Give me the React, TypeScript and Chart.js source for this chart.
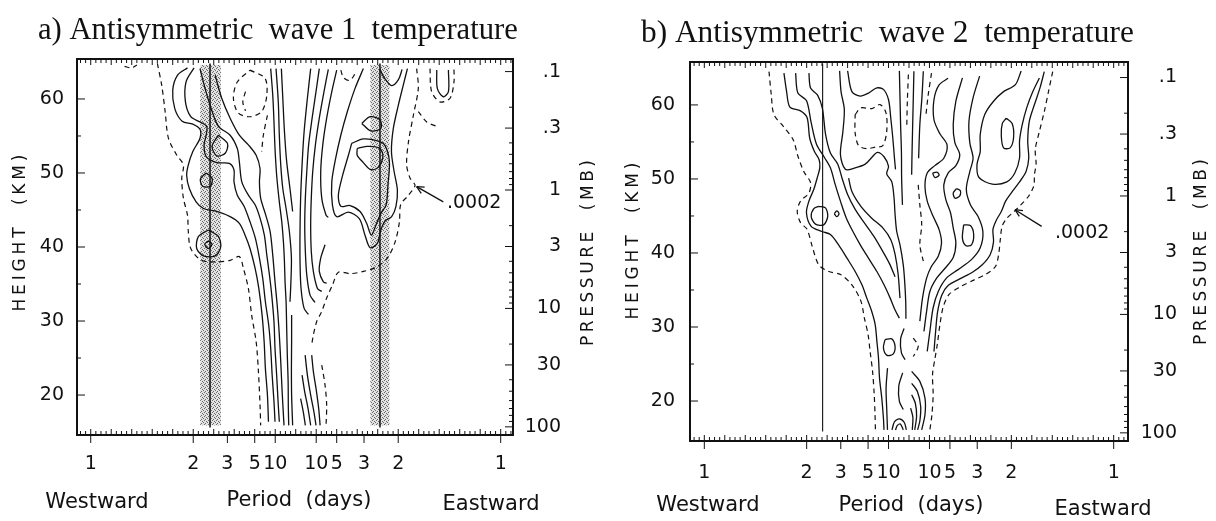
import React, { useEffect, useRef } from 'react';
import { Chart, registerables } from 'chart.js';

Chart.register(...registerables);

type Pt = [number, number];

// ---------- axis ticks ----------
const PERIOD_TICK_FREQ: number[] = [-1, -1 / 2, -1 / 3, -1 / 5, -1 / 10, 1 / 10, 1 / 5, 1 / 3, 1 / 2, 1];
const PERIOD_TICK_LABELS: string[] = ['1', '2', '3', '5', '10', '10', '5', '3', '2', '1'];
const HEIGHT_TICKS: number[] = [20, 30, 40, 50, 60];
const HEIGHT_MINOR_TICKS: number[] = [25, 35, 45, 55];
const PRESSURE_TICKS: number[] = [0.1, 0.3, 1, 3, 10, 30, 100];
const PRESSURE_LABELS: string[] = ['.1', '.3', '1', '3', '10', '30', '100'];
const PRESSURE_MINOR: number[] = [0.2, 0.4, 0.5, 0.6, 0.7, 0.8, 0.9, 2, 4, 5, 6, 7, 8, 9, 20, 40, 50, 60, 70, 80, 90];

// ---------- panel a contours (frequency cpd, height km) ----------
const A_W1: Pt[] = [[-0.528,64.2],[-0.577,63.2],[-0.600,61.2],[-0.590,58.7],[-0.554,57.0],[-0.502,56.6],[-0.467,55.9],[-0.467,54.7],[-0.502,52.9],[-0.524,51.1],[-0.532,49.7],[-0.519,47.9],[-0.486,46.1],[-0.450,45.2],[-0.385,44.8],[-0.320,44.1],[-0.275,43.2],[-0.247,41.6],[-0.223,39.8],[-0.198,37.1],[-0.180,34.4],[-0.164,30.8],[-0.154,27.2],[-0.148,23.6],[-0.138,20.0],[-0.133,16.4]];
const A_W2: Pt[] = [[-0.496,64.2],[-0.535,62.3],[-0.538,59.6],[-0.512,57.6],[-0.467,56.9],[-0.434,56.3],[-0.437,55.1],[-0.447,53.8],[-0.437,52.2],[-0.385,51.4],[-0.324,51.3],[-0.301,50.4],[-0.301,48.8],[-0.285,47.0],[-0.252,45.5],[-0.223,43.4],[-0.197,41.2],[-0.177,38.5],[-0.161,35.8],[-0.148,32.6],[-0.132,29.5],[-0.122,26.3],[-0.115,22.7],[-0.106,19.1],[-0.101,16.4]];
const A_D1: Pt[] = [[-0.467,64.1],[-0.442,61.4],[-0.410,58.5],[-0.377,56.3],[-0.320,55.1],[-0.285,53.3],[-0.275,51.5],[-0.263,48.8],[-0.231,47.0],[-0.198,45.7],[-0.174,43.9],[-0.153,41.6],[-0.141,38.9],[-0.128,36.2],[-0.117,33.5],[-0.106,29.9],[-0.101,26.3],[-0.093,22.7],[-0.086,19.1],[-0.080,16.4]];
const A_D2: Pt[] = [[-0.393,63.2],[-0.361,60.1],[-0.320,57.4],[-0.275,55.1],[-0.231,53.8],[-0.193,52.4],[-0.174,50.6],[-0.177,48.8],[-0.171,46.6],[-0.146,44.3],[-0.125,42.1],[-0.112,38.9],[-0.101,35.3],[-0.089,31.7],[-0.080,28.1],[-0.073,24.5],[-0.067,20.9],[-0.060,17.3],[-0.057,15.9]];
const A_C1: Pt[] = [[-0.122,64.1],[-0.112,60.5],[-0.106,56.9],[-0.101,53.3],[-0.093,49.7],[-0.080,46.1],[-0.068,43.4],[-0.060,40.7],[-0.055,38.0],[-0.052,35.3],[-0.047,32.6],[-0.044,29.0],[-0.041,25.4],[-0.037,21.8],[-0.036,18.2],[-0.034,15.9]];
const A_C2: Pt[] = [[-0.096,64.1],[-0.085,59.6],[-0.080,55.1],[-0.073,51.1],[-0.063,47.9],[-0.047,45.2],[-0.031,42.1],[-0.021,38.5],[-0.024,34.9],[-0.028,32.6]];
const A_C3: Pt[] = [[-0.070,64.1],[-0.063,60.1],[-0.055,55.6],[-0.044,51.5],[-0.028,47.9],[-0.015,44.8]];
const A_R1: Pt[] = [[-0.020,30.8],[-0.020,27.2],[-0.021,23.6],[-0.020,20.0],[-0.015,15.9]];
const A_B1: Pt[] = [[-0.377,55.1],[-0.333,54.0],[-0.343,52.7],[-0.385,52.3],[-0.408,53.6],[-0.377,55.1]];
const A_B2: Pt[] = [[-0.437,50.0],[-0.408,49.3],[-0.416,48.2],[-0.454,48.2],[-0.465,49.2],[-0.437,50.0]];
const A_B3: Pt[] = [[-0.426,42.3],[-0.377,41.4],[-0.366,40.0],[-0.393,38.8],[-0.450,38.8],[-0.483,39.8],[-0.475,41.4],[-0.426,42.3]];
const A_B3I: Pt[] = [[-0.426,40.8],[-0.408,40.4],[-0.426,39.8],[-0.444,40.4],[-0.426,40.8]];
const A_E1: Pt[] = [[0.073,64.1],[0.057,60.1],[0.041,55.6],[0.031,51.1],[0.024,46.6],[0.021,42.1],[0.021,38.0],[0.026,34.4],[0.041,31.7],[0.062,30.9]];
const A_E2: Pt[] = [[0.115,64.1],[0.099,61.0],[0.080,57.4],[0.063,53.8],[0.054,50.2],[0.047,46.6],[0.044,43.0],[0.047,39.4],[0.054,36.2],[0.070,33.5],[0.094,32.5]];
const A_E3: Pt[] = [[0.159,64.0],[0.138,61.0],[0.115,57.4],[0.096,53.8],[0.083,50.2],[0.076,46.6],[0.073,43.0],[0.076,39.4],[0.086,36.7],[0.106,34.4],[0.127,34.0]];
const A_E4: Pt[] = [[0.143,40.3],[0.122,38.5],[0.115,36.7],[0.135,35.3],[0.151,35.1]];
const A_E5: Pt[] = [[0.200,63.9],[0.176,61.0],[0.151,57.4],[0.132,53.8],[0.122,50.2],[0.127,46.6],[0.148,44.3],[0.159,44.0]];
const A_EE1: Pt[] = [[0.330,64.1],[0.289,61.4],[0.252,58.3],[0.220,55.1],[0.195,52.0],[0.176,48.8],[0.179,45.7],[0.200,44.1],[0.257,44.7],[0.311,43.8],[0.338,41.6],[0.363,39.9],[0.398,40.5],[0.415,42.3],[0.436,43.5],[0.468,44.1],[0.489,45.5],[0.496,47.7],[0.480,50.2],[0.467,52.9],[0.476,56.0],[0.501,59.2],[0.525,61.9],[0.545,64.1]];
const A_EE2: Pt[] = [[0.273,54.0],[0.330,54.6],[0.403,54.3],[0.436,53.7],[0.457,51.5],[0.450,48.4],[0.441,45.7],[0.415,44.5],[0.392,43.0],[0.369,41.6],[0.346,43.2],[0.314,44.8],[0.265,45.6],[0.220,45.5],[0.208,47.0],[0.229,49.7],[0.257,52.4],[0.273,54.0]];
const A_EE3: Pt[] = [[0.300,53.3],[0.346,53.6],[0.405,53.4],[0.425,52.5],[0.418,51.4],[0.395,50.6],[0.363,50.5],[0.330,51.4],[0.300,52.4],[0.300,53.3]];
const A_EBLOB: Pt[] = [[0.322,56.7],[0.363,57.6],[0.411,57.2],[0.415,56.0],[0.366,55.7],[0.322,56.7]];
const A_TU: Pt[] = [[0.411,64.0],[0.431,62.9],[0.468,61.8],[0.501,62.6],[0.519,64.0]];
const A_FU: Pt[] = [[0.688,63.9],[0.691,61.4],[0.720,60.3],[0.745,61.0],[0.745,63.9]];
const A_EB1: Pt[] = [[0.078,25.4],[0.086,23.2],[0.099,20.9],[0.112,18.2],[0.119,15.9]];
const A_EB2: Pt[] = [[0.046,25.4],[0.057,22.7],[0.073,20.0],[0.089,17.7],[0.099,15.9]];
const A_EB3: Pt[] = [[0.031,22.7],[0.044,20.4],[0.060,18.2],[0.073,15.9]];
const A_EB4: Pt[] = [[0.024,19.5],[0.037,17.7],[0.047,15.9]];
// dashed (.0002 level)
const A_DW: Pt[] = [[-0.675,64.8],[-0.654,61.9],[-0.637,58.3],[-0.621,54.7],[-0.580,52.4],[-0.548,51.1],[-0.556,49.3],[-0.548,46.6],[-0.528,44.3],[-0.524,42.1],[-0.512,39.8],[-0.459,38.2],[-0.377,38.0],[-0.320,38.2],[-0.275,38.7],[-0.255,37.1],[-0.231,34.4],[-0.215,30.8],[-0.193,27.2],[-0.182,23.2],[-0.174,18.6],[-0.171,15.9]];
const A_DT1: Pt[] = [[-0.223,63.9],[-0.150,62.8],[-0.141,60.5],[-0.166,58.3],[-0.223,57.6],[-0.280,58.1],[-0.304,60.1],[-0.285,62.3],[-0.223,63.9]];
const A_DT2: Pt[] = [[-0.245,61.0],[-0.258,59.6],[-0.245,58.4]];
const A_DT3: Pt[] = [[-0.138,57.8],[-0.158,55.1],[-0.166,52.9]];
const A_DTU: Pt[] = [[0.220,63.9],[0.233,62.9],[0.262,62.5],[0.285,63.2],[0.291,63.9]];
const A_DTR: Pt[] = [[0.655,64.1],[0.663,61.0],[0.704,59.6],[0.753,60.1],[0.772,62.3],[0.772,64.1]];
const A_DTR2: Pt[] = [[0.598,58.3],[0.639,56.9],[0.688,56.3]];
const A_DE: Pt[] = [[0.590,64.1],[0.598,61.4],[0.574,57.8],[0.550,54.2],[0.541,51.1],[0.558,49.3],[0.582,48.3],[0.550,47.0],[0.512,45.7],[0.506,43.4],[0.485,40.7],[0.447,38.5],[0.395,37.3],[0.330,36.7],[0.265,36.4],[0.208,36.6],[0.180,34.9],[0.151,33.1],[0.127,31.3],[0.102,29.9],[0.086,28.1],[0.078,26.8]];
const A_DEB: Pt[] = [[0.127,24.05],[0.143,21.35],[0.151,18.65],[0.148,15.95]];
const A_DTINY: Pt[] = [[-0.835,64.4],[-0.80,64.2],[-0.775,64.6]];
// guide lines and shaded bands
const A_LINE_W: Pt[] = [[-0.418,15.6],[-0.418,64.8]];
const A_LINE_E: Pt[] = [[0.411,15.6],[0.411,64.8]];
const A_SHADE_BANDS: Pt[] = [[-0.466,-0.365],[0.364,0.457]];
const A_SHADE_SPAN: Pt = [15.9, 64.6];
const A_ARROW: Pt[] = [[0.720,46.1],[0.590,48.15]];
const A_LABEL_AT: Pt = [0.738, 45.9];

// ---------- panel b contours ----------
const B_W1: Pt[] = [[-0.611,64.3],[-0.598,61.8],[-0.582,59.7],[-0.530,59.2],[-0.498,58.3],[-0.485,55.5],[-0.462,53.7],[-0.439,52.6],[-0.436,51.5],[-0.449,50.1],[-0.465,48.6],[-0.489,47.0],[-0.501,45.4],[-0.478,43.6],[-0.425,42.9],[-0.384,42.5],[-0.344,41.1],[-0.303,39.3],[-0.263,37.5],[-0.230,35.7],[-0.206,33.9],[-0.182,32.1],[-0.165,30.3],[-0.157,28.1],[-0.149,25.8],[-0.144,23.1],[-0.133,20.4],[-0.125,17.7],[-0.122,16.1]];
const B_W2: Pt[] = [[-0.554,64.3],[-0.543,61.6],[-0.501,60.6],[-0.478,57.6],[-0.452,54.7],[-0.413,52.9],[-0.384,51.5],[-0.360,49.2],[-0.335,47.0],[-0.306,44.7],[-0.274,42.9],[-0.238,41.1],[-0.198,39.3],[-0.157,37.5],[-0.122,35.7],[-0.092,33.9],[-0.068,32.3],[-0.047,31.2]];
const B_W3: Pt[] = [[-0.489,64.3],[-0.481,62.3],[-0.446,61.3],[-0.423,59.5],[-0.408,56.1],[-0.384,53.5],[-0.348,52.0],[-0.327,50.1],[-0.300,47.9],[-0.263,45.9],[-0.219,44.1],[-0.173,42.3],[-0.133,40.45],[-0.096,38.6],[-0.068,36.8]];
const B_W4: Pt[] = [[-0.295,50.1],[-0.279,48.3],[-0.235,46.3],[-0.182,44.7],[-0.128,43.4],[-0.089,41.8],[-0.068,39.8],[-0.053,37.1],[-0.044,33.9]];
const B_M1: Pt[] = [[-0.339,64.6],[-0.332,61.8],[-0.316,59.4],[-0.323,56.4],[-0.335,53.3],[-0.311,51.3],[-0.263,51.5],[-0.214,52.0],[-0.182,52.9],[-0.154,53.6],[-0.122,53.0],[-0.100,51.7],[-0.109,50.7],[-0.084,49.6],[-0.073,47.4],[-0.068,45.2],[-0.060,42.9],[-0.044,41.1],[-0.028,38.4],[-0.021,36.1],[-0.016,33.4],[-0.015,31.1]];
const B_M2: Pt[] = [[-0.300,64.6],[-0.279,61.8],[-0.238,61.2],[-0.198,61.6],[-0.157,62.3],[-0.125,62.1],[-0.100,60.7],[-0.089,58.2],[-0.079,55.5],[-0.071,52.8],[-0.066,51.3]];
const B_B1: Pt[] = [[-0.441,46.3],[-0.408,46.1],[-0.397,44.95],[-0.417,43.8],[-0.457,43.9],[-0.478,44.95],[-0.465,46.0],[-0.441,46.3]];
const B_B2: Pt[] = [[-0.365,45.3],[-0.353,45.7],[-0.342,45.3],[-0.353,44.9],[-0.365,45.3]];
const B_C1: Pt[] = [[-0.047,64.6],[-0.044,61.0],[-0.041,57.3],[-0.037,53.7],[-0.036,50.1],[-0.032,46.5]];
const B_C3: Pt[] = [[0.024,64.55],[0.021,60.95],[0.018,57.35],[0.015,53.74],[0.013,50.58]];
const B_C4: Pt[] = [[0.070,64.55],[0.063,60.95],[0.053,57.35],[0.047,52.8]];
const B_E1: Pt[] = [[0.191,63.6],[0.147,62.7],[0.122,60.7],[0.122,58.0],[0.151,56.1],[0.186,54.6],[0.170,52.8],[0.126,51.8],[0.089,50.8],[0.078,49.0],[0.089,47.0],[0.118,44.95],[0.147,43.15],[0.159,41.35],[0.143,39.55],[0.110,38.2],[0.086,36.6],[0.066,33.9],[0.053,30.8]];
const B_E2: Pt[] = [[0.261,63.65],[0.229,60.5],[0.216,57.3],[0.224,54.9],[0.248,53.3],[0.229,51.8],[0.191,50.8],[0.170,49.2],[0.180,47.2],[0.203,45.4],[0.216,43.4],[0.229,41.35],[0.216,39.4],[0.175,37.9],[0.135,36.6],[0.102,34.8],[0.086,32.1],[0.073,29.4]];
const B_E3: Pt[] = [[0.345,63.9],[0.313,60.95],[0.293,57.8],[0.297,54.9],[0.313,52.8],[0.297,51.0],[0.280,48.6],[0.300,46.5],[0.337,44.95],[0.361,42.9],[0.348,40.7],[0.305,39.1],[0.240,37.75],[0.183,36.6],[0.143,34.8],[0.118,32.6],[0.102,29.4],[0.089,26.7]];
const B_E4: Pt[] = [[0.548,64.6],[0.520,62.75],[0.462,61.8],[0.413,60.5],[0.370,58.7],[0.348,56.0],[0.348,53.7],[0.332,51.9],[0.342,50.2],[0.407,49.3],[0.478,49.6],[0.517,50.8],[0.540,52.8],[0.540,55.1],[0.553,57.3],[0.575,59.6],[0.605,61.8],[0.637,63.65]];
const B_EE: Pt[] = [[0.661,64.5],[0.640,62.3],[0.613,60.05],[0.588,57.8],[0.580,55.1],[0.585,52.8],[0.572,51.0],[0.540,49.6],[0.499,48.1],[0.472,47.0],[0.451,45.6],[0.426,44.4],[0.410,43.15],[0.413,41.5],[0.397,39.8],[0.358,38.4],[0.310,37.4],[0.248,36.5],[0.191,35.6],[0.160,34.3],[0.140,32.1],[0.130,29.4],[0.122,26.7]];
const B_BLOB1: Pt[] = [[0.475,58.2],[0.504,57.5],[0.511,55.6],[0.494,54.2],[0.462,54.2],[0.451,55.8],[0.456,57.5],[0.475,58.2]];
const B_BLOB2: Pt[] = [[0.115,50.8],[0.138,50.9],[0.147,50.5],[0.126,50.2],[0.115,50.8]];
const B_BLOB3: Pt[] = [[0.232,48.7],[0.251,48.4],[0.248,47.7],[0.225,47.4],[0.216,48.1],[0.232,48.7]];
const B_BLOB4: Pt[] = [[0.267,43.8],[0.300,43.7],[0.316,42.5],[0.305,41.1],[0.277,41.0],[0.261,42.0],[0.267,43.8]];
const B_OV: Pt[] = [[-0.117,28.3],[-0.084,28.4],[-0.068,27.4],[-0.079,26.3],[-0.109,26.2],[-0.125,27.2],[-0.117,28.3]];
const B_PAREN: Pt[] = [[-0.024,29.8],[-0.041,28.4],[-0.037,26.5],[-0.019,25.6]];
const B_WB1: Pt[] = [[-0.105,24.45],[-0.112,21.75],[-0.109,19.05],[-0.105,16.1]];
const B_WB2: Pt[] = [[-0.031,23.8],[-0.050,22.0],[-0.047,19.95],[-0.028,18.85]];
const B_WBA1: Pt[] = [[-0.083,16.1],[-0.071,17.2],[-0.047,17.6],[-0.023,17.1],[-0.013,16.1]];
const B_WBA2: Pt[] = [[-0.066,16.1],[-0.057,16.7],[-0.042,16.9],[-0.028,16.1]];
const B_EB1: Pt[] = [[0.013,24.0],[0.053,22.65],[0.078,20.4],[0.078,18.15],[0.062,16.1]];
const B_EB2: Pt[] = [[0.013,22.4],[0.041,21.3],[0.057,19.3],[0.053,17.3],[0.042,16.1]];
const B_EB3: Pt[] = [[0.013,20.85],[0.031,19.7],[0.037,17.9],[0.028,16.1]];
const B_EB4: Pt[] = [[0.008,19.05],[0.019,17.8],[0.016,16.1]];
// dashed
const B_DW: Pt[] = [[-0.684,64.5],[-0.673,61.4],[-0.660,58.7],[-0.614,57.1],[-0.566,55.3],[-0.543,53.1],[-0.514,51.0],[-0.481,49.5],[-0.489,48.1],[-0.530,47.0],[-0.546,45.6],[-0.530,44.1],[-0.498,43.2],[-0.473,40.9],[-0.441,38.4],[-0.392,37.5],[-0.335,37.1],[-0.279,35.7],[-0.235,33.5],[-0.218,31.2],[-0.200,29.0],[-0.190,26.7],[-0.178,24.0],[-0.170,20.9],[-0.166,18.2],[-0.164,16.1]];
const B_M3: Pt[] = [[-0.263,58.7],[-0.235,59.6],[-0.182,59.5],[-0.141,60.05],[-0.112,58.9],[-0.109,56.4],[-0.128,54.5],[-0.165,54.3],[-0.206,54.1],[-0.246,54.5],[-0.263,56.2],[-0.263,58.7]];
const B_DC1: Pt[] = [[-0.003,64.1],[-0.008,60.5],[-0.011,56.9]];
const B_DC2: Pt[] = [[0.045,49.2],[0.053,46.5],[0.062,43.8],[0.053,41.1],[0.070,38.9]];
const B_DE2: Pt[] = [[0.110,64.3],[0.094,61.4],[0.083,58.7]];
const B_DE: Pt[] = [[0.702,64.5],[0.682,61.85],[0.661,59.1],[0.637,56.4],[0.617,54.0],[0.621,52.0],[0.613,50.6],[0.610,49.1],[0.585,47.7],[0.543,46.4],[0.514,45.6],[0.478,44.7],[0.455,43.6],[0.446,41.8],[0.439,40.0],[0.423,38.2],[0.374,37.1],[0.313,36.3],[0.248,35.4],[0.196,34.4],[0.167,32.7],[0.151,30.3],[0.138,27.6],[0.126,25.6],[0.115,23.6],[0.118,20.85],[0.112,18.15],[0.102,16.1]];
const B_DGT: Pt[] = [[0.021,28.5],[0.045,27.4],[0.021,26.0]];
const B_LINE: Pt[] = [[-0.422,15.9],[-0.422,65.6]];
const B_ARROW: Pt[] = [[0.648,43.6],[0.518,45.85]];
const B_LABEL_AT: Pt = [0.713, 42.7];

// pressure (mb) -> log-pressure height (km) used by the right axis
const pressureHeight = (p: number) => 16 * Math.log10(1000 / p) - 0.3;

interface Panel {
  title: string;
  solid: Pt[][];
  dashed: Pt[][];
  guides: Pt[][];
  guideWidth: number;
  shades: Pt[];
  shadeSpan: Pt | null;
  arrow: Pt[];
  labelAt: Pt;
  xRange: Pt;
  yRange: Pt;
  box: { left: number; right: number; top: number; bottom: number };
  rightLabelEdge: number;
  yTickPad: number;
  xTickPad: number;
  titleX: number; titleBase: number; titleWidth: number;
  heightLbl: Pt; pressureLbl: Pt;
  words: [string, number, number][];
}

const W = 608, H = 521;

const PANEL_A: Panel = {
  title: 'a) Antisymmetric  wave 1  temperature',
  solid: [A_W1, A_W2, A_D1, A_D2, A_C1, A_C2, A_C3, A_R1, A_B1, A_B2, A_B3, A_B3I, A_E1, A_E2, A_E3, A_E4, A_E5, A_EE1, A_EE2, A_EE3, A_EBLOB, A_TU, A_FU, A_EB1, A_EB2, A_EB3, A_EB4],
  dashed: [A_DW, A_DT1, A_DT2, A_DT3, A_DTU, A_DTR, A_DTR2, A_DE, A_DEB, A_DTINY],
  guides: [A_LINE_W, A_LINE_E],
  guideWidth: 1.5,
  shades: A_SHADE_BANDS,
  shadeSpan: A_SHADE_SPAN,
  arrow: A_ARROW,
  labelAt: A_LABEL_AT,
  xRange: [-1.067, 1.06],
  yRange: [14.6, 65.4],
  box: { left: 77, right: 513, top: 59, bottom: 435 },
  rightLabelEdge: 561,
  yTickPad: 13,
  xTickPad: 18,
  titleX: 38, titleBase: 39, titleWidth: 480,
  heightLbl: [21, 233], pressureLbl: [589, 253],
  words: [['Westward', 97, 508], ['Period  (days)', 299, 506], ['Eastward', 491, 510]],
};

const PANEL_B: Panel = {
  title: 'b) Antisymmetric  wave 2  temperature',
  solid: [B_W1, B_W2, B_W3, B_W4, B_M1, B_M2, B_B1, B_B2, B_C1, B_C3, B_C4, B_E1, B_E2, B_E3, B_E4, B_EE, B_BLOB1, B_BLOB2, B_BLOB3, B_BLOB4, B_OV, B_PAREN, B_WB1, B_WB2, B_WBA1, B_WBA2, B_EB1, B_EB2, B_EB3, B_EB4],
  dashed: [B_DW, B_M3, B_DC1, B_DC2, B_DE2, B_DE, B_DGT],
  guides: [B_LINE],
  guideWidth: 1.1,
  shades: [],
  shadeSpan: null,
  arrow: B_ARROW,
  labelAt: B_LABEL_AT,
  xRange: [-1.07, 1.07],
  yRange: [14.6, 65.8],
  box: { left: 82, right: 520, top: 62, bottom: 441 },
  rightLabelEdge: 569,
  yTickPad: 15,
  xTickPad: 21,
  titleX: 33, titleBase: 42, titleWidth: 493,
  heightLbl: [26, 241], pressureLbl: [594, 252],
  words: [['Westward', 100, 511], ['Period  (days)', 303, 511], ['Eastward', 495, 515]],
};

const INK = '#111';
const SANS = '"DejaVu Sans", "Liberation Sans", sans-serif';

function lineSet(pts: Pt[], dashed: boolean, width: number) {
  return {
    data: pts.map(([x, y]) => ({ x, y })),
    showLine: true,
    borderColor: INK,
    borderWidth: width,
    borderDash: dashed ? [5, 4] : [],
    pointRadius: 0,
    pointHoverRadius: 0,
    tension: 0.3,
    fill: false,
  };
}

function drawSpaced(ctx: CanvasRenderingContext2D, text: string, cx: number, cy: number, length: number) {
  const chars = text.split('');
  const widths = chars.map((c) => ctx.measureText(c).width);
  const natural = widths.reduce((a, b) => a + b, 0);
  const gap = (length - natural) / (chars.length - 1);
  ctx.save();
  ctx.translate(cx, cy);
  ctx.rotate(-Math.PI / 2);
  ctx.textAlign = 'left';
  ctx.textBaseline = 'middle';
  let x = -length / 2;
  chars.forEach((c, i) => {
    ctx.fillText(c, x, 0);
    x += widths[i] + gap;
  });
  ctx.restore();
}

function makePlugin(cfg: Panel) {
  let pattern: CanvasPattern | null = null;
  return {
    id: 'panelDecor',
    beforeDatasetsDraw(chart: any) {
      const ctx: CanvasRenderingContext2D = chart.ctx;
      if (!cfg.shadeSpan) return;
      if (!pattern) {
        // light stipple like the printed screen tone
        const c = document.createElement('canvas');
        c.width = 4; c.height = 4;
        const g = c.getContext('2d')!;
        g.fillStyle = '#e2e2e2'; g.fillRect(0, 0, 4, 4);
        g.fillStyle = '#6a6a6a';
        g.fillRect(0, 0, 1, 1); g.fillRect(2, 1, 1, 1); g.fillRect(1, 3, 1, 1); g.fillRect(3, 2, 1, 1);
        pattern = ctx.createPattern(c, 'repeat');
      }
      const xs = chart.scales.x, ys = chart.scales.y;
      const y0 = ys.getPixelForValue(cfg.shadeSpan[1]);
      const y1 = ys.getPixelForValue(cfg.shadeSpan[0]);
      ctx.save();
      ctx.fillStyle = pattern as any;
      cfg.shades.forEach(([a, b]) => {
        const x0 = xs.getPixelForValue(a), x1 = xs.getPixelForValue(b);
        ctx.fillRect(x0, y0, x1 - x0, y1 - y0);
      });
      ctx.restore();
    },
    afterDatasetsDraw(chart: any) {
      const ctx: CanvasRenderingContext2D = chart.ctx;
      const { left, right, top, bottom } = chart.chartArea;
      const xs = chart.scales.x, ys = chart.scales.y;
      ctx.save();
      ctx.strokeStyle = INK;
      ctx.lineWidth = 1;
      const seg = (x0: number, y0: number, x1: number, y1: number) => {
        ctx.beginPath(); ctx.moveTo(x0, y0); ctx.lineTo(x1, y1); ctx.stroke();
      };
      // minor frequency ticks on top and bottom edges (inward)
      const step = 0.025;
      const kMax = Math.ceil(1.1 / step);
      for (let k = -kMax; k <= kMax; k++) {
        const px = xs.getPixelForValue(k * step);
        if (px < left + 2 || px > right - 2) continue;
        const len = k % 4 === 0 ? 6 : 4;
        seg(px, bottom, px, bottom - len);
        seg(px, top, px, top + len);
      }
      // major period ticks (outward, below)
      PERIOD_TICK_FREQ.forEach((f) => {
        const px = xs.getPixelForValue(f);
        seg(px, bottom, px, bottom + 8);
      });
      // height ticks (inward on left)
      HEIGHT_TICKS.forEach((h) => { const py = ys.getPixelForValue(h); seg(left, py, left + 8, py); });
      HEIGHT_MINOR_TICKS.forEach((h) => { const py = ys.getPixelForValue(h); seg(left, py, left + 4, py); });
      // pressure ticks (inward on right)
      PRESSURE_TICKS.forEach((p) => { const py = ys.getPixelForValue(pressureHeight(p)); seg(right, py, right - 8, py); });
      PRESSURE_MINOR.forEach((p) => { const py = ys.getPixelForValue(pressureHeight(p)); if (py > top && py < bottom) seg(right, py, right - 4, py); });
      // frame
      ctx.lineWidth = 2;
      ctx.strokeRect(left, top, right - left, bottom - top);

      // arrow to the .0002 contour
      const [tail, tip] = cfg.arrow;
      const tx = xs.getPixelForValue(tail[0]), ty = ys.getPixelForValue(tail[1]);
      const hx = xs.getPixelForValue(tip[0]), hy = ys.getPixelForValue(tip[1]);
      ctx.lineWidth = 1.3;
      seg(tx, ty, hx, hy);
      const ang = Math.atan2(ty - hy, tx - hx);
      [0.45, -0.45].forEach((d) => seg(hx, hy, hx + 8 * Math.cos(ang + d), hy + 8 * Math.sin(ang + d)));
      ctx.fillStyle = INK;
      ctx.font = `19px ${SANS}`;
      ctx.textAlign = 'left';
      ctx.textBaseline = 'middle';
      ctx.fillText('.0002', xs.getPixelForValue(cfg.labelAt[0]), ys.getPixelForValue(cfg.labelAt[1]));
      ctx.restore();
    },
    afterDraw(chart: any) {
      const ctx: CanvasRenderingContext2D = chart.ctx;
      ctx.save();
      ctx.fillStyle = INK;
      // title (serif), fitted to its width in the reference
      ctx.font = '30px "Liberation Serif", "Times New Roman", serif';
      const w0 = ctx.measureText(cfg.title).width;
      const size = 30 * cfg.titleWidth / w0;
      ctx.font = `${size.toFixed(2)}px "Liberation Serif", "Times New Roman", serif`;
      ctx.textAlign = 'left';
      ctx.textBaseline = 'alphabetic';
      ctx.fillText(cfg.title, cfg.titleX, cfg.titleBase);
      // axis titles
      ctx.font = `17px ${SANS}`;
      drawSpaced(ctx, 'HEIGHT  (KM)', cfg.heightLbl[0], cfg.heightLbl[1], 157);
      drawSpaced(ctx, 'PRESSURE  (MB)', cfg.pressureLbl[0], cfg.pressureLbl[1], 186);
      // bottom words
      ctx.font = `21px ${SANS}`;
      ctx.textAlign = 'center';
      ctx.textBaseline = 'alphabetic';
      cfg.words.forEach(([t, x, y]) => ctx.fillText(t, x, y));
      ctx.restore();
    },
  };
}

function buildChart(canvas: HTMLCanvasElement, cfg: Panel) {
  const datasets: any[] = [
    ...cfg.guides.map((g) => lineSet(g, false, cfg.guideWidth)),
    ...cfg.solid.map((c) => lineSet(c, false, 1.3)),
    ...cfg.dashed.map((c) => lineSet(c, true, 1.2)),
  ];
  const tickFont = { family: SANS, size: 19 };
  return new Chart(canvas, {
    type: 'scatter',
    data: { datasets },
    options: {
      animation: false,
      responsive: false,
      maintainAspectRatio: false,
      devicePixelRatio: 1,
      events: [],
      layout: { padding: { top: cfg.box.top, right: W - cfg.rightLabelEdge, left: 0, bottom: 0 } },
      plugins: { legend: { display: false }, tooltip: { enabled: false }, title: { display: false } },
      scales: {
        x: {
          type: 'linear', position: 'bottom', min: cfg.xRange[0], max: cfg.xRange[1],
          grid: { display: false, drawTicks: false, tickLength: 0 }, border: { display: false },
          afterBuildTicks: (s: any) => { s.ticks = PERIOD_TICK_FREQ.map((v) => ({ value: v })); },
          afterFit: (s: any) => { s.height = H - cfg.box.bottom; },
          ticks: {
            autoSkip: false, maxRotation: 0, minRotation: 0, padding: cfg.xTickPad, color: INK, font: tickFont,
            callback: (_v: any, i: number) => PERIOD_TICK_LABELS[i],
          },
        },
        y: {
          type: 'linear', position: 'left', min: cfg.yRange[0], max: cfg.yRange[1],
          grid: { display: false, drawTicks: false, tickLength: 0 }, border: { display: false },
          afterBuildTicks: (s: any) => { s.ticks = HEIGHT_TICKS.map((v) => ({ value: v })); },
          afterFit: (s: any) => { s.width = cfg.box.left; },
          ticks: {
            autoSkip: false, padding: cfg.yTickPad, color: INK, font: tickFont,
            callback: (_v: any, i: number) => String(HEIGHT_TICKS[i]),
          },
        },
        y2: {
          type: 'linear', position: 'right', min: cfg.yRange[0], max: cfg.yRange[1],
          grid: { display: false, drawTicks: false, tickLength: 0 }, border: { display: false },
          afterBuildTicks: (s: any) => { s.ticks = PRESSURE_TICKS.map((p) => ({ value: pressureHeight(p) })); },
          afterFit: (s: any) => { s.width = cfg.rightLabelEdge - cfg.box.right; },
          ticks: {
            autoSkip: false, crossAlign: 'far', padding: 0, color: INK, font: tickFont,
            callback: (_v: any, i: number) => PRESSURE_LABELS[i],
          },
        },
      },
    } as any,
    plugins: [makePlugin(cfg)],
  });
}

export default function App() {
  const refA = useRef<HTMLCanvasElement>(null);
  const refB = useRef<HTMLCanvasElement>(null);
  useEffect(() => {
    const a = buildChart(refA.current!, PANEL_A);
    const b = buildChart(refB.current!, PANEL_B);
    return () => { a.destroy(); b.destroy(); };
  }, []);
  return (
    <div style={{ position: 'fixed', left: 0, top: 0, width: 1216, height: 521, background: '#fff', display: 'flex' }}>
      <canvas ref={refA} width={W} height={H} style={{ width: W, height: H, display: 'block' }} />
      <canvas ref={refB} width={W} height={H} style={{ width: W, height: H, display: 'block' }} />
    </div>
  );
}
